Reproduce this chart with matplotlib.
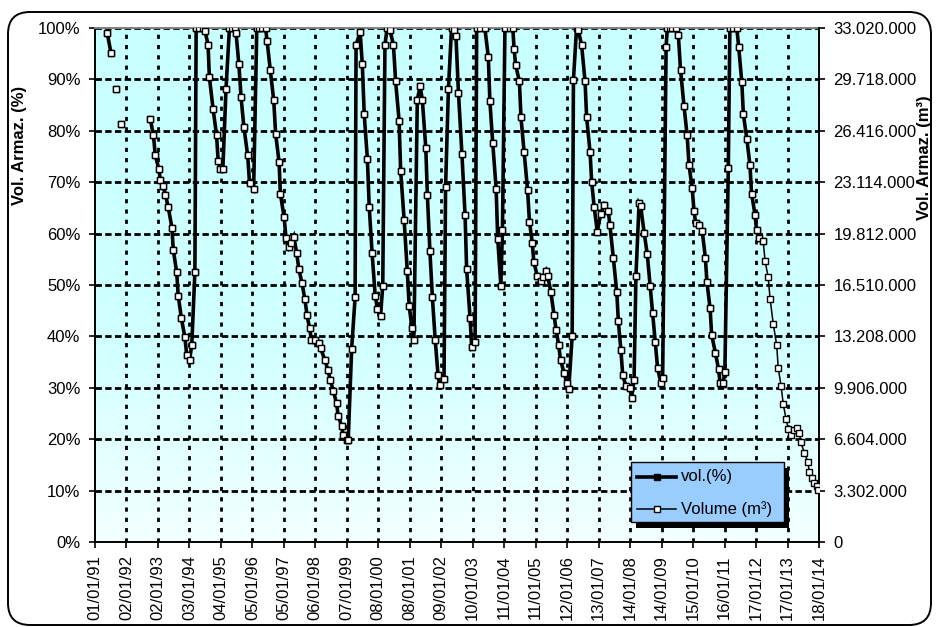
import numpy as np
import pandas as pd
import matplotlib
matplotlib.use("Agg")
import matplotlib.pyplot as plt
import matplotlib.dates as mdates
from matplotlib.lines import Line2D
from matplotlib.patches import FancyBboxPatch, Rectangle
from matplotlib.colors import LinearSegmentedColormap
from matplotlib.transforms import IdentityTransform

plt.rcParams['font.family'] = ['Liberation Sans', 'DejaVu Sans']
plt.rcParams['font.size'] = 12

# reservoir capacity (100 %)
capacity_m3 = 33_020_000

# observation times (decimal years); NaN in vol_pct marks a gap in the record
obs_year = [
    1991.39, 1991.51, 1991.58, 1991.66, 1991.74, 1991.82, 1992.30,
    1992.76, 1992.86, 1992.92,
    1993.03, 1993.08, 1993.17, 1993.24, 1993.33, 1993.45, 1993.49, 1993.60,
    1993.65, 1993.75, 1993.86, 1993.92,
    1994.01, 1994.08, 1994.18, 1994.22, 1994.30, 1994.45, 1994.50, 1994.60,
    1994.64, 1994.76, 1994.87, 1994.92, 1994.99,
    1995.07, 1995.17, 1995.28, 1995.36, 1995.45, 1995.49, 1995.58, 1995.65,
    1995.74, 1995.86, 1995.92,
    1996.05, 1996.15, 1996.23, 1996.32, 1996.43, 1996.48, 1996.58, 1996.69,
    1996.75, 1996.86, 1996.90,
    1997.02, 1997.08, 1997.17, 1997.24, 1997.33, 1997.42, 1997.49, 1997.59,
    1997.68, 1997.75, 1997.83, 1997.89,
    1998.00, 1998.12, 1998.18, 1998.32, 1998.41, 1998.49, 1998.59, 1998.69,
    1998.74, 1998.85, 1998.90,
    1999.01, 1999.06, 1999.17, 1999.28, 1999.31, 1999.44, 1999.51, 1999.57,
    1999.67, 1999.73, 1999.82, 1999.92, 1999.99,
    2000.09, 2000.16, 2000.23, 2000.30, 2000.39, 2000.50, 2000.57, 2000.68,
    2000.73, 2000.84, 2000.94,
    2001.00, 2001.09, 2001.15, 2001.26, 2001.35, 2001.42, 2001.53, 2001.58,
    2001.66, 2001.74, 2001.83, 2001.92, 2001.97,
    2002.11, 2002.16, 2002.25, 2002.35, 2002.43, 2002.49, 2002.57, 2002.68,
    2002.78, 2002.83, 2002.94, 2002.99,
    2003.10, 2003.15, 2003.26, 2003.41, 2003.52, 2003.57, 2003.66, 2003.77,
    2003.82, 2003.92, 2003.97,
    2004.05, 2004.21, 2004.30, 2004.34, 2004.39, 2004.51, 2004.56, 2004.66,
    2004.77, 2004.83, 2004.92, 2004.97,
    2005.08, 2005.19, 2005.25, 2005.36, 2005.41, 2005.51, 2005.61, 2005.68,
    2005.76, 2005.82, 2005.93,
    2006.02, 2006.08, 2006.19, 2006.23, 2006.33, 2006.38, 2006.49, 2006.60,
    2006.65, 2006.76, 2006.81, 2006.89, 2006.99,
    2007.10, 2007.21, 2007.34, 2007.39, 2007.50, 2007.61, 2007.66, 2007.74,
    2007.80, 2007.90,
    2008.03, 2008.08, 2008.16, 2008.22, 2008.32, 2008.37, 2008.48, 2008.58,
    2008.67, 2008.75, 2008.83, 2008.91,
    2009.01, 2009.07, 2009.18, 2009.22, 2009.30, 2009.38, 2009.49, 2009.57,
    2009.64, 2009.75, 2009.85, 2009.91,
    2010.01, 2010.07, 2010.12, 2010.23, 2010.33, 2010.43, 2010.48, 2010.58,
    2010.63, 2010.75, 2010.85, 2010.90,
    2011.00, 2011.05, 2011.16, 2011.21, 2011.32, 2011.43, 2011.49, 2011.59,
    2011.64, 2011.75, 2011.85, 2011.90,
    2012.01, 2012.06, 2012.15, 2012.27, 2012.33, 2012.43, 2012.49, 2012.59,
    2012.70, 2012.75, 2012.84, 2012.91,
    2013.00, 2013.07, 2013.15, 2013.24, 2013.34, 2013.42, 2013.47, 2013.58,
    2013.69, 2013.74, 2013.83, 2013.89, 2013.97,
    2014.02,
]

# stored volume, % of capacity
nan = float('nan')
vol_pct = [
    99.0, 95.1, nan, 88.1, nan, 81.3, nan,
    82.3, 79.1, 75.2,
    72.6, 70.4, 69.3, 67.6, 65.2, 61.1, 56.9, 52.5,
    47.9, 43.5, 39.9, 36.4,
    35.4, 38.3, 52.5, 100.0, 100.0, 100.0, 99.5, 96.7,
    90.5, 84.2, 79.1, 74.2, 72.6,
    72.6, 88.1, 100.0, 100.0, 100.0, 99.0, 92.9, 86.5,
    80.7, 75.2, 69.8,
    68.7, 100.0, 100.0, 100.0, 100.0, 97.4, 91.8, 85.9,
    79.4, 73.9, 67.8,
    63.2, 59.2, 57.3, 58.1, 59.4, 56.2, 53.1, 50.3,
    47.3, 44.1, 41.6, 39.3,
    39.3, 38.7, 37.7, 35.4, 33.5, 31.5, 29.3, 27.0,
    24.6, 22.6, 20.8,
    19.8, 19.8, 37.6, 47.6, 96.7, 99.2, 92.9, 83.2,
    74.6, 65.2, 56.3, 47.9, 45.4,
    44.0, 49.9, 96.7, 100.0, 99.6, 96.7, 89.6, 82.0,
    72.2, 62.7, 52.8,
    46.0, 41.6, 39.3, 86.0, 88.7, 86.0, 76.7, 67.5,
    56.7, 47.6, 39.3, 32.5, 30.5,
    31.7, 69.1, 88.1, 100.0, 99.7, 98.4, 87.4, 75.5,
    63.7, 53.1, 43.5, 38.0,
    39.0, 100.0, 100.0, 100.0, 94.4, 85.8, 77.7, 68.7,
    58.9, 49.9, 60.7,
    100.0, 100.0, 100.0, 96.0, 92.8, 89.6, 82.6, 75.9,
    68.5, 62.3, 58.2, 54.4,
    51.8, 50.8, 51.5, 52.8, 51.8, 48.7, 44.2, 41.2,
    38.3, 35.4, 32.9,
    30.9, 29.7, 40.1, 89.9, 100.0, 99.7, 96.7, 89.6,
    82.6, 75.8, 70.1, 65.2, 60.4,
    63.9, 65.6, 64.3, 61.7, 55.3, 48.6, 42.9, 37.4,
    32.4, 30.4,
    29.9, 28.0, 31.5, 51.8, 65.9, 65.4, 60.2, 56.0,
    49.9, 44.5, 39.0, 33.8,
    31.0, 32.0, 96.4, 100.0, 100.0, 100.0, 100.0, 98.6,
    91.8, 84.8, 79.1, 73.3,
    68.8, 64.3, 62.1, 61.7, 60.5, 55.3, 50.5, 45.5,
    40.3, 36.8, 33.6, 30.9,
    31.0, 33.1, 72.7, 100.0, 100.0, 100.0, 96.4, 89.4,
    83.2, 78.4, 73.3, 67.8,
    63.7, 60.7, 59.2, 58.6, 54.7, 51.5, 47.3, 42.5,
    38.3, 33.8, 30.4, 26.8,
    23.9, 22.0, 20.8, 21.8, 22.2, 21.3, 19.4, 17.4,
    15.6, 13.7, 12.4, 11.4, 10.8,
    10.1,
]

# the percentage series stops here; the volume series runs to the end
pct_last_year = 2012.27

axis_start = "1991-01-01"
tick_step_days = 366
n_ticks = 24

# ---------------------------------------------------------------------------
W, H = 936, 627
fig = plt.figure(figsize=(W / 100, H / 100), dpi=100)
fig.patch.set_facecolor('white')

def fx(px):
    return px / W

def fy(py):
    return 1 - py / H

ax_l, ax_r, ax_t, ax_b = 95, 819, 28, 542
ax = fig.add_axes([fx(ax_l), fy(ax_b), fx(ax_r - ax_l), (ax_b - ax_t) / H])

base = pd.Timestamp(axis_start)
yrs = np.array(obs_year)
dates = base + pd.to_timedelta((yrs - 1991.0) * 365.25, unit='D')
xnum = mdates.date2num(dates.to_pydatetime())
pct = np.array(vol_pct, dtype=float)
vol_m3 = pct * capacity_m3 / 100.0
pct_mask = yrs <= pct_last_year + 1e-9

tick_dates = pd.date_range(axis_start, periods=n_ticks, freq=f"{tick_step_days}D")
tick_num = mdates.date2num(tick_dates.to_pydatetime())
x0, x1 = tick_num[0], tick_num[-1]

# plot area gradient: light cyan at the top fading to near white at the bottom
cmap = LinearSegmentedColormap.from_list(
    'bg', [(0.0, '#F2FFFF'), (0.4, '#D0FFFF'), (1.0, '#C8FFFF')])
grad = np.linspace(1, 0, 256).reshape(-1, 1)
ax.imshow(grad, cmap=cmap, extent=[x0, x1, 0, 100], aspect='auto',
          zorder=0, interpolation='bicubic', vmin=0, vmax=1)

ax.set_xlim(x0, x1)
ax.set_ylim(0, 100)

# grid
for v in range(10, 101, 10):
    ax.axhline(v, color='black', lw=2.0, ls=(0, (2.3, 1.2)), zorder=1)
for t in tick_num[1:]:
    ax.axvline(t, color='black', lw=2.0, ls=(0, (1.5, 2.2)), zorder=1)

# percentage series (thick line, black squares)
ax.plot(xnum[pct_mask], pct[pct_mask], color='black', lw=2.6, marker='s',
        ms=4.0, mfc='black', mec='black', zorder=3, solid_joinstyle='miter')

ax.set_xticks(tick_num)
ax.set_xticklabels([d.strftime('%d/%m/%y') for d in tick_dates], rotation=90)
ax.set_yticks(np.arange(0, 101, 10))
ax.set_yticklabels([f"{v}%" for v in range(0, 101, 10)])
ax.tick_params(axis='both', direction='out', length=4.5, width=1.2,
               color='black', labelsize=12)
ax.tick_params(axis='y', pad=6)
ax.tick_params(axis='x', pad=5)
for s in ('left', 'bottom'):
    ax.spines[s].set_color('black')
    ax.spines[s].set_linewidth(1.4)
ax.spines['top'].set_color('#808080')
ax.spines['top'].set_linewidth(1.4)
ax.spines['right'].set_visible(False)

# volume series on the secondary axis (thin line, white squares)
ax2 = ax.twinx()
ax2.patch.set_visible(False)
ax2.plot(xnum, vol_m3, color='black', lw=1.1, marker='s', ms=4.0,
         mfc='white', mec='black', mew=1.0, zorder=4)
ax2.set_ylim(0, capacity_m3)
rt = np.arange(0, 11) * capacity_m3 / 10
ax2.set_yticks(rt)
ax2.set_yticklabels(['0' if v == 0 else f"{int(round(v)):,}".replace(',', '.')
                     for v in rt])
ax2.tick_params(axis='y', direction='out', length=4.5, width=1.2, pad=6,
                labelsize=12)
for s in ('left', 'bottom', 'top'):
    ax2.spines[s].set_visible(False)
ax2.spines['right'].set_color('black')
ax2.spines['right'].set_linewidth(1.4)
ax2.set_xlim(x0, x1)

# axis titles
fig.text(fx(20), fy(145), 'Vol. Armaz. (%)', rotation=90, weight='bold',
         ha='center', va='center', fontsize=12)
fig.text(fx(924), fy(158), 'Vol. Armaz. (m³)', rotation=90, weight='bold',
         ha='center', va='center', fontsize=12)

# legend box with a solid drop shadow
lx0, ly0, lx1, ly1 = 631, 462, 784, 522
fig.add_artist(Rectangle((fx(lx0 + 5), fy(ly1 + 6)), fx(lx1 - lx0), (ly1 - ly0) / H,
                         transform=fig.transFigure, fc='black', ec='none', zorder=5))
fig.add_artist(Rectangle((fx(lx0), fy(ly1)), fx(lx1 - lx0), (ly1 - ly0) / H,
                         transform=fig.transFigure, fc='#99CCFF', ec='black',
                         lw=1, zorder=6))
legend_rows = [
    ('vol.(%)', 477, 2.6, 'black'),
    ('Volume (m³)', 509, 1.1, 'white'),
]
for label, yy, lw, mfc in legend_rows:
    fig.add_artist(Line2D([fx(637), fx(676)], [fy(yy), fy(yy)], color='black',
                          lw=lw, transform=fig.transFigure, zorder=7))
    fig.add_artist(Line2D([fx(656.5)], [fy(yy)], marker='s', ms=4.4, mfc=mfc,
                          mec='black', mew=1.0, transform=fig.transFigure,
                          zorder=8))
    fig.text(fx(681), fy(yy), label, ha='left', va='center', fontsize=12,
             zorder=8)

# rounded outer frame
fig.add_artist(FancyBboxPatch((8, H - 625), 923, 613,
                              boxstyle='round,pad=0,rounding_size=22',
                              transform=IdentityTransform(), fc='none',
                              ec='black', lw=1.4, zorder=10))

fig.savefig('out.png', dpi=100)
